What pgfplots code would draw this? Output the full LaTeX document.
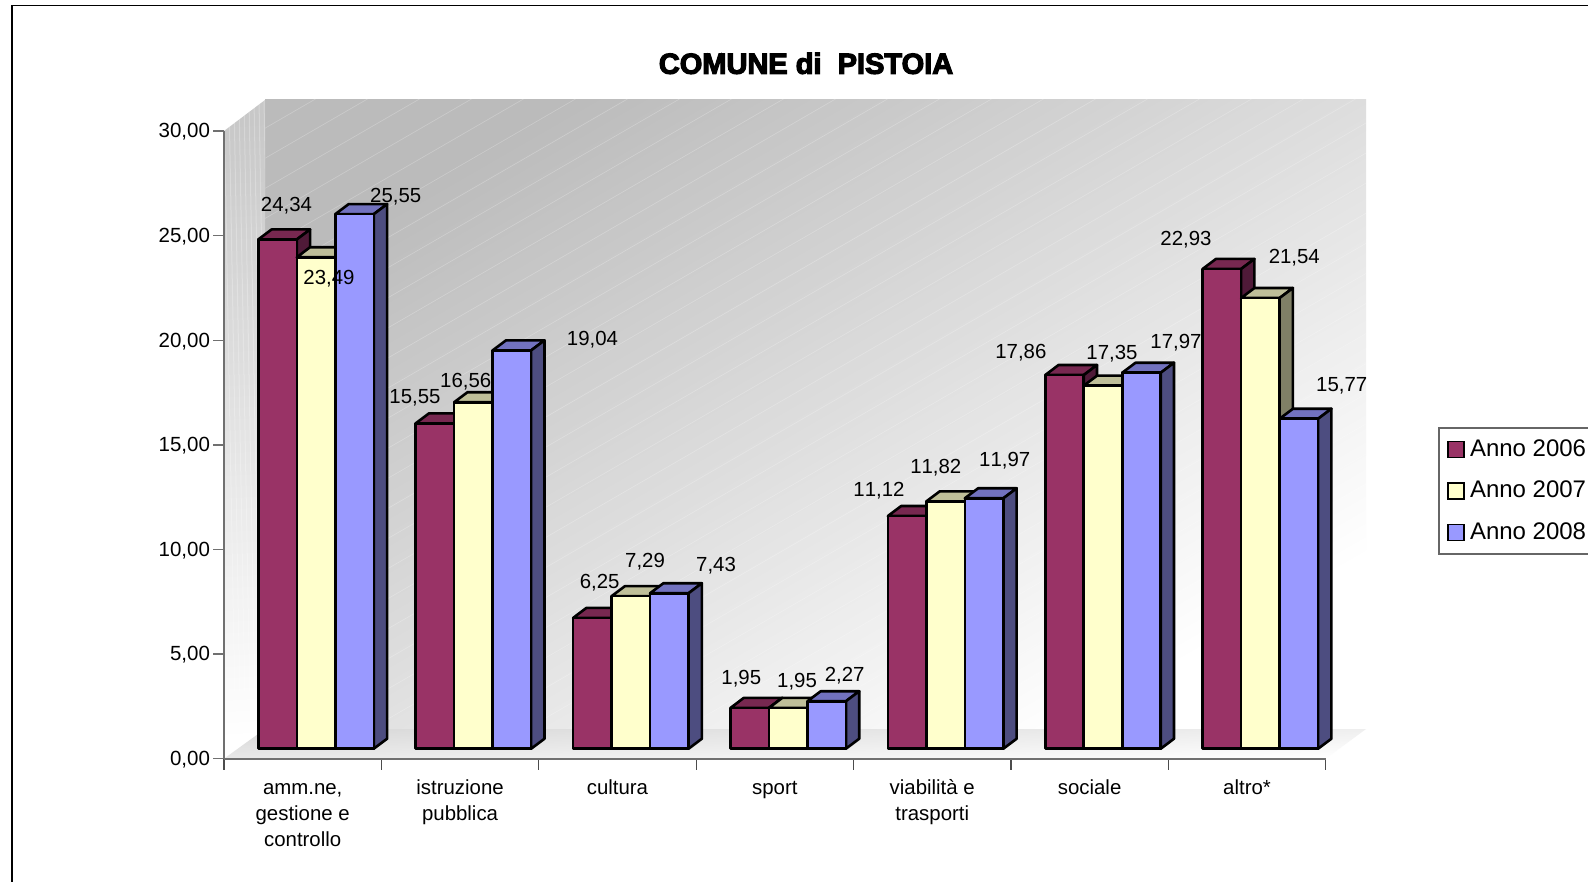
\documentclass[border=0pt]{standalone}
\usepackage{fontspec}
\setmainfont{Liberation Sans}[Kerning=Off]
\newfontfamily\titlefont[BoldFeatures={FakeBold=4}]{Liberation Sans}
\usepackage{pgfplots}
\pgfplotsset{compat=1.18}

\definecolor{redF}{HTML}{993366}
\definecolor{redT}{HTML}{772850}
\definecolor{redS}{HTML}{4F1A38}
\definecolor{yelF}{HTML}{FFFFCC}
\definecolor{yelT}{HTML}{BFBF99}
\definecolor{yelS}{HTML}{808066}
\definecolor{bluF}{HTML}{9999FF}
\definecolor{bluT}{HTML}{7272BF}
\definecolor{bluS}{HTML}{4D4D80}
\definecolor{wallA}{HTML}{BBBBBB}
\definecolor{sideA}{HTML}{C8C8C8}
\definecolor{floorA}{HTML}{D8D8D8}
\definecolor{axisgray}{HTML}{707070}

% one bar: category, series, value, front, top and side colours
\newcommand{\onebar}[6]{%
  \pgfmathsetmacro{\xl}{#1+0.218+#2*0.2446}
  \pgfmathsetmacro{\xr}{\xl+0.2446}
  \pgfmathsetmacro{\xlb}{\xl+0.0845}
  \pgfmathsetmacro{\xrb}{\xr+0.0845}
  \pgfmathsetmacro{\yt}{#3+0.478}
  \pgfmathsetmacro{\ytb}{#3+0.956}
  \addplot[forget plot, draw=black, line width=1.3pt, line join=round, fill=#5] coordinates {(\xl,\yt) (\xlb,\ytb) (\xrb,\ytb) (\xr,\yt)} -- cycle;
  \addplot[forget plot, draw=black, line width=1.3pt, line join=round, fill=#6] coordinates {(\xr,0.478) (\xrb,0.956) (\xrb,\ytb) (\xr,\yt)} -- cycle;
  \addplot[forget plot, draw=black, line width=1.3pt, line join=round, fill=#4] coordinates {(\xl,0.478) (\xl,\yt) (\xr,\yt) (\xr,0.478)} -- cycle;
}
\newcommand{\threebars}[4]{%
  \onebar{#1}{0}{#2}{redF}{redT}{redS}
  \onebar{#1}{1}{#3}{yelF}{yelT}{yelS}
  \onebar{#1}{2}{#4}{bluF}{bluT}{bluS}
}
% same first baseline for every category label
\newcommand{\fl}{\rule{0pt}{9.5pt}}

\begin{document}
\begin{tikzpicture}
  \begin{scope}[x=0.5pt,y=-0.5pt]
  \fill[white] (0,0) rectangle (1588,882);
  % frame
  \draw[black, line width=0.8pt] (12,882) -- (12,5.5) -- (1588,5.5);
  % title
  \node[inner sep=0pt] at (806,63.4) {\titlefont\bfseries\fontsize{14.5}{16}\selectfont COMUNE di\ \ PISTOIA};
  % back wall
  \begin{scope}
    \clip (265,100) rectangle (1366,729);
    \shade[top color=wallA, bottom color=white, shading angle=30] (265,100) rectangle (1366,729);
    \foreach \i in {-30,...,24} {
      \draw[white, opacity=0.25, line width=0.3pt] (265+\i*52,760) -- ++(1400,-810);
    }
  \end{scope}
  % side wall
  \begin{scope}
    \clip (224,131) -- (265,100) -- (265,729) -- (224,758.7) -- cycle;
    \shade[top color=sideA, bottom color=white, shading angle=4] (224,100) rectangle (265,759);
    \foreach \i in {0,...,9} {
      \draw[white, opacity=0.25, line width=0.5pt] (224+\i*5,100) -- ++(12,660);
    }
  \end{scope}
  % floor
  \shade[top color=floorA, bottom color=white, shading angle=2] (224,758.7) -- (265,729) -- (1366,729) -- (1325.7,758.7) -- cycle;
  \end{scope}

  \begin{axis}[
    at={(112pt,-379.35pt)}, anchor=south west,
    scale only axis, width=550.85pt, height=313.85pt,
    xmin=0, xmax=7, ymin=0, ymax=30,
    clip=false,
    axis x line=bottom, axis y line=left,
    axis line style={-, axisgray, line width=0.8pt},
    xtick={0.5,1.5,2.5,3.5,4.5,5.5,6.5},
    xticklabels={{\fl amm.ne,\\gestione e\\controllo},{\fl istruzione\\pubblica},\fl cultura,\fl sport,{\fl viabilità e\\trasporti},\fl sociale,\fl altro*},
    minor xtick={0,1,...,7},
    major x tick style={draw=none},
    minor x tick style={draw=black!70, line width=0.6pt},
    major y tick style={draw=axisgray, line width=0.7pt},
    minor tick length=5.5pt,
    xticklabel style={align=center, font=\fontsize{10.2}{12.9}\selectfont, anchor=north, yshift=0.4pt},
    ytick={0,5,...,30},
    ytick pos=left,
    major tick length=5.5pt,
    yticklabel style={font=\fontsize{10.25}{12}\selectfont, xshift=2pt, yshift=-0.5pt, /pgf/number format/.cd, fixed, fixed zerofill, precision=2, use comma, assume math mode=true},
    tick align=outside,
    legend style={at={(axis description cs:1.1022,0.528)}, anchor=north west,
      draw=black!60, line width=0.7pt, font=\fontsize{12}{14}\selectfont,
      row sep=6.9pt, inner xsep=4.2pt, inner ysep=3.8pt, legend cell align=left},
    legend image code/.code={\draw[#1, draw=black, line width=0.9pt] (0pt,-4pt) rectangle (8pt,4pt); \path (8.5pt,0pt);},
  ]
    \threebars{0}{24.34}{23.49}{25.55}
    \threebars{1}{15.55}{16.56}{19.04}
    \threebars{2}{6.25}{7.29}{7.43}
    \threebars{3}{1.95}{1.95}{2.27}
    \threebars{4}{11.12}{11.82}{11.97}
    \threebars{5}{17.86}{17.35}{17.97}
    \threebars{6}{22.93}{21.54}{15.77}
    \addlegendimage{fill=redF}\addlegendentry{Anno 2006}
    \addlegendimage{fill=yelF}\addlegendentry{Anno 2007}
    \addlegendimage{fill=bluF}\addlegendentry{Anno 2008}
  \end{axis}

  % value labels
  \begin{scope}[x=0.5pt,y=-0.5pt,every node/.style={inner sep=0pt, yshift=-0.75pt, font=\fontsize{10.2}{12}\selectfont}]
    \node at (286.5,204.3) {24,34};
    \node at (329,277) {23,49};
    \node at (395.7,195.3) {25,55};
    \node at (415,396) {15,55};
    \node at (465.7,380.3) {16,56};
    \node at (592.5,338.3) {19,04};
    \node at (599.6,581.3) {6,25};
    \node at (645,560) {7,29};
    \node at (716,564) {7,43};
    \node at (741.3,677.5) {1,95};
    \node at (797,680.6) {1,95};
    \node at (844.7,674.5) {2,27};
    \node at (879,489) {11,12};
    \node at (935.8,465.9) {11,82};
    \node at (1004.7,458.8) {11,97};
    \node at (1020.9,351.4) {17,86};
    \node at (1112,352.4) {17,35};
    \node at (1176,341) {17,97};
    \node at (1186,237.7) {22,93};
    \node at (1294.3,256) {21,54};
    \node at (1341.7,384) {15,77};
  \end{scope}
  % the page is the reference's frame; the legend runs off its right edge
  \pgfresetboundingbox
  \useasboundingbox (0pt,0pt) rectangle (794pt,-441pt);
\end{tikzpicture}
\end{document}
